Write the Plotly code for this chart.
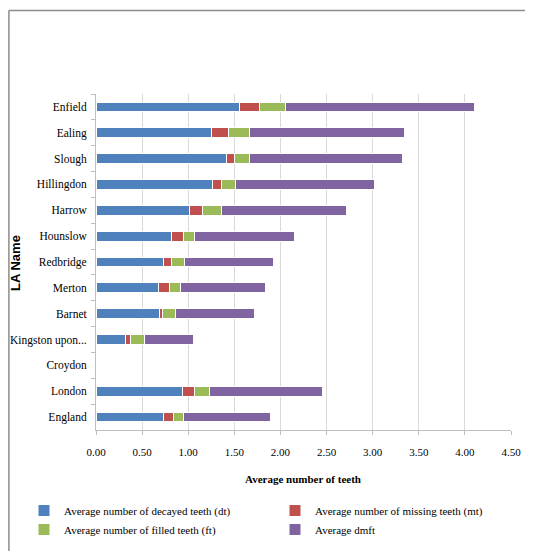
import plotly.graph_objects as go

categories = ["Enfield", "Ealing", "Slough", "Hillingdon", "Harrow", "Hounslow",
              "Redbridge", "Merton", "Barnet", "Kingston upon...", "Croydon",
              "London", "England"]
dt = [1.56, 1.25, 1.41, 1.26, 1.01, 0.82, 0.73, 0.68, 0.69, 0.32, None, 0.94, 0.73]
mt = [0.21, 0.19, 0.09, 0.10, 0.15, 0.13, 0.09, 0.12, 0.03, 0.05, None, 0.13, 0.11]
ft = [0.28, 0.22, 0.16, 0.15, 0.20, 0.12, 0.14, 0.12, 0.14, 0.16, None, 0.16, 0.11]
dmft = [2.05, 1.68, 1.66, 1.51, 1.36, 1.08, 0.97, 0.92, 0.86, 0.53, None, 1.23, 0.94]
x_ticks = [0, 0.5, 1.0, 1.5, 2.0, 2.5, 3.0, 3.5, 4.0, 4.5]

series = [
    ("Average number of decayed teeth (dt)", dt, "#4F81BD"),
    ("Average number of missing teeth (mt)", mt, "#C0504D"),
    ("Average number of filled teeth (ft)", ft, "#9BBB59"),
    ("Average dmft", dmft, "#8064A2"),
]

# page body has an 8px margin; work in page-pixel coordinates
O = 8
W, H = 533 - 2 * O, 559 - 2 * O
PL, PR, PT, PB = 96, 511, 94, 430  # plot area in page pixels
L, R, T, B = PL - O, (W + O) - PR, PT - O, (H + O) - PB
pw, ph = PR - PL, PB - PT

def px(xp):
    return (xp - PL) / pw

def py(yp):
    return (PB - yp) / ph

fig = go.Figure()
for name, vals, col in series:
    fig.add_trace(go.Bar(
        y=categories, x=vals, name=name, orientation="h",
        marker=dict(color=col, line=dict(color="white", width=1)),
    ))

serif = "Liberation Serif"
frame = dict(color="#8c8c8c", width=1.5)
fig.update_layout(
    width=W, height=H, autosize=False,
    margin=dict(l=L, r=R, t=T, b=B, autoexpand=False),
    barmode="stack", bargap=0.62,
    plot_bgcolor="white", paper_bgcolor="white",
    font=dict(family=serif, size=11, color="#000000"),
    showlegend=True,
    legend=dict(orientation="h", x=px(24), xanchor="left", y=py(496), yanchor="top",
                entrywidth=206, entrywidthmode="pixels", itemwidth=30,
                font=dict(family=serif, size=11), tracegroupgap=0,
                traceorder="normal", itemclick=False),
    xaxis=dict(range=[0, 4.5], tickvals=x_ticks, ticktext=[f"{v:.2f}" for v in x_ticks],
               showgrid=True, gridcolor="#d9d9d9", gridwidth=1, automargin=False,
               showline=True, linecolor="#bfbfbf", linewidth=1,
               ticks="outside", ticklen=4, tickcolor="#bfbfbf",
               ticklabelstandoff=8, zeroline=False,
               tickfont=dict(family=serif, size=11)),
    yaxis=dict(categoryorder="array", categoryarray=categories, autorange="reversed",
               showline=True, linecolor="#bfbfbf", linewidth=1, automargin=False,
               ticks="outside", ticklen=4, tickcolor="#bfbfbf", tickson="boundaries",
               ticklabelstandoff=6, showgrid=False,
               tickfont=dict(family=serif, size=11.5)),
    annotations=[
        dict(text="<b>Average number of teeth</b>", xref="paper", yref="paper",
             x=px(303), y=py(479), xanchor="center", yanchor="middle", showarrow=False,
             font=dict(family=serif, size=11)),
        dict(text="<b>LA Name</b>", xref="paper", yref="paper", textangle=-90,
             x=px(15), y=py(263), xanchor="center", yanchor="middle", showarrow=False,
             font=dict(family="Liberation Sans", size=13)),
    ],
    shapes=[
        dict(type="line", xref="paper", yref="paper",
             x0=px(8.9), x1=px(8.9), y0=py(560), y1=py(10.5), line=frame),
        dict(type="line", xref="paper", yref="paper",
             x0=px(8.9), x1=px(540), y0=py(10.5), y1=py(10.5), line=frame),
    ],
)

fig.write_html("out.html")
